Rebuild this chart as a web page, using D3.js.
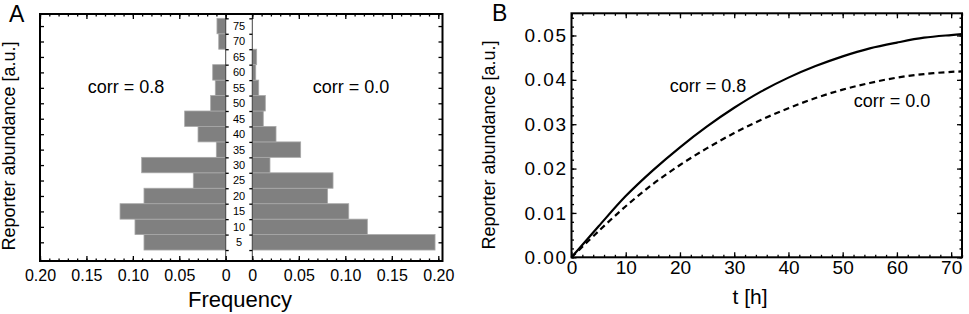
<!DOCTYPE html>
<html>
<head>
<meta charset="utf-8">
<script src="https://cdn.jsdelivr.net/npm/d3@7"></script>
<style>
  body { margin: 0; background: #fff; }
  svg { font-family: "Liberation Sans", Arial, sans-serif; }
  .axis path.domain { display: none; }
  .axis line { stroke: #000; stroke-width: 1.3; }
  .axis text { fill: #000; }
</style>
</head>
<body>
<svg id="chart" width="969" height="314"></svg>
<script>
// ---- panel A: reporter abundance histograms ----
const bins = [5, 10, 15, 20, 25, 30, 35, 40, 45, 50, 55, 60, 65, 70, 75];
const freqCorr08 = [0.088, 0.0977, 0.1138, 0.088, 0.0349, 0.0905, 0.0101, 0.0298, 0.0442, 0.0162, 0.0112, 0.014, 0, 0.0075, 0.0094];
const freqCorr00 = [0.1965, 0.1237, 0.1037, 0.081, 0.0868, 0.019, 0.052, 0.0255, 0.0118, 0.014, 0.0069, 0.0037, 0.0047, 0, 0];
const freqTicks = [0, 0.05, 0.10, 0.15, 0.20];

// ---- panel B: reporter abundance over time ----
const hours = [0, 5, 10, 15, 20, 25, 30, 35, 40, 45, 50, 55, 60, 65, 70, 72];
const abundCorr08 = [0, 0.0070, 0.0138, 0.0196, 0.0248, 0.0295, 0.0337, 0.0374, 0.0405, 0.0431, 0.0453, 0.0471, 0.0484, 0.0495, 0.0501, 0.0503];
const abundCorr00 = [0, 0.0059, 0.0115, 0.0165, 0.0208, 0.0246, 0.0280, 0.0310, 0.0336, 0.0359, 0.0378, 0.0393, 0.0405, 0.0413, 0.0418, 0.0419];
const hourTicks = [0, 10, 20, 30, 40, 50, 60, 70];
const abundTicks = [0, 0.01, 0.02, 0.03, 0.04, 0.05];

const svg = d3.select('#chart');

function addAxis(axis, x, y) {
    return svg.append('g')
        .attr('class', 'axis')
        .attr('transform', `translate(${x},${y})`)
        .call(axis);
}

// ================= Panel A =================
const A = { left: 40, right: 442.5, top: 14, bottom: 261, midL: 225.7, midR: 252.3 };

const xL = d3.scaleLinear().domain([0.2, 0]).range([A.left, A.midL]);
const xR = d3.scaleLinear().domain([0, 0.2]).range([A.midR, 438.3]);
const yA = d3.scaleLinear().domain([-1.05, 78.9]).range([A.bottom, A.top]);
const barH = yA(0) - yA(5);
const freqFmt = d => d === 0 ? '0' : d.toFixed(2);

svg.append('g').selectAll('rect')
    .data(bins.map((b, i) => ({ b, v: freqCorr08[i] })).filter(d => d.v > 0))
    .join('rect')
    .attr('x', d => xL(d.v))
    .attr('y', d => yA(d.b + 2.5))
    .attr('width', d => xL(0) - xL(d.v))
    .attr('height', barH)
    .attr('fill', '#808080')
    .attr('stroke', '#a8a8a8')
    .attr('stroke-width', 0.8);

svg.append('g').selectAll('rect')
    .data(bins.map((b, i) => ({ b, v: freqCorr00[i] })).filter(d => d.v > 0))
    .join('rect')
    .attr('x', xR(0))
    .attr('y', d => yA(d.b + 2.5))
    .attr('width', d => xR(d.v) - xR(0))
    .attr('height', barH)
    .attr('fill', '#808080')
    .attr('stroke', '#a8a8a8')
    .attr('stroke-width', 0.8);

// center strip with bin labels
[A.midL, A.midR].forEach(x => {
    svg.append('line')
        .attr('x1', x).attr('x2', x)
        .attr('y1', A.top).attr('y2', A.bottom)
        .attr('stroke', '#444').attr('stroke-width', 1);
});
const binEdges = bins.map(b => b - 2.5).concat([77.5]);
addAxis(d3.axisRight(yA).tickValues(binEdges).tickSize(3).tickFormat(''), A.midL, 0);
addAxis(d3.axisLeft(yA).tickValues(binEdges).tickSize(3).tickFormat(''), A.midR, 0);
svg.append('g').selectAll('text')
    .data(bins)
    .join('text')
    .attr('x', (A.midL + A.midR) / 2)
    .attr('y', d => yA(d))
    .attr('dy', '0.36em')
    .attr('text-anchor', 'middle')
    .attr('font-size', '11px')
    .text(d => d);

// bottom / top frequency axes
const minorL = d3.range(0, 0.2001, 0.01);
const minorR = d3.range(0, 0.2041, 0.01);
addAxis(d3.axisBottom(xL).tickValues(freqTicks).tickSize(-5).tickPadding(9).tickFormat(freqFmt), 0, A.bottom)
    .selectAll('text').attr('font-size', '16px');
addAxis(d3.axisBottom(xR).tickValues(freqTicks).tickSize(-5).tickPadding(9).tickFormat(freqFmt), 0, A.bottom)
    .selectAll('text').attr('font-size', '16px');
addAxis(d3.axisBottom(xL).tickValues(minorL).tickSize(-2.5).tickFormat(''), 0, A.bottom);
addAxis(d3.axisBottom(xR).tickValues(minorR).tickSize(-2.5).tickFormat(''), 0, A.bottom);
addAxis(d3.axisTop(xL).tickValues(freqTicks).tickSize(-5).tickFormat(''), 0, A.top);
addAxis(d3.axisTop(xR).tickValues(freqTicks).tickSize(-5).tickFormat(''), 0, A.top);
addAxis(d3.axisTop(xL).tickValues(minorL).tickSize(-2.5).tickFormat(''), 0, A.top);
addAxis(d3.axisTop(xR).tickValues(minorR).tickSize(-2.5).tickFormat(''), 0, A.top);
addAxis(d3.axisLeft(yA).tickValues(bins).tickSize(-4).tickFormat(''), A.left, 0);
addAxis(d3.axisRight(yA).tickValues(bins).tickSize(-4).tickFormat(''), A.right, 0);

svg.append('rect')
    .attr('x', A.left).attr('y', A.top)
    .attr('width', A.right - A.left).attr('height', A.bottom - A.top)
    .attr('fill', 'none').attr('stroke', '#000').attr('stroke-width', 2);

svg.append('text').attr('x', 126).attr('y', 92.5).attr('text-anchor', 'middle')
    .attr('font-size', '18px').text('corr = 0.8');
svg.append('text').attr('x', 351).attr('y', 92.5).attr('text-anchor', 'middle')
    .attr('font-size', '18px').text('corr = 0.0');

svg.append('text').attr('x', 240).attr('y', 307).attr('text-anchor', 'middle')
    .attr('font-size', '22px').text('Frequency');
svg.append('text')
    .attr('transform', 'translate(15,146) rotate(-90)')
    .attr('text-anchor', 'middle')
    .attr('font-size', '18px')
    .text('Reporter abundance [a.u.]');
svg.append('text').attr('x', 9).attr('y', 22).attr('font-size', '23px').text('A');

// ================= Panel B =================
const B = { left: 571.5, right: 962, top: 13.3, bottom: 257.3 };
const xB = d3.scaleLinear().domain([0, 72]).range([B.left, B.right]);
const yB = d3.scaleLinear().domain([0, 0.055]).range([B.bottom, B.top]);

const minorX = d3.range(0, 72.1, 2);
const minorY = d3.range(0, 0.0551, 0.002);

addAxis(d3.axisBottom(xB).tickValues(hourTicks).tickSize(-5).tickPadding(3).tickFormat(d3.format('d')), 0, B.bottom)
    .selectAll('text').attr('font-size', '19px');
addAxis(d3.axisBottom(xB).tickValues(minorX).tickSize(-2.5).tickFormat(''), 0, B.bottom);
addAxis(d3.axisTop(xB).tickValues(hourTicks).tickSize(-5).tickFormat(''), 0, B.top);
addAxis(d3.axisTop(xB).tickValues(minorX).tickSize(-2.5).tickFormat(''), 0, B.top);
addAxis(d3.axisLeft(yB).tickValues(abundTicks).tickSize(-5).tickPadding(4).tickFormat(d3.format('.2f')), B.left, 0)
    .selectAll('text').attr('font-size', '19px').style('letter-spacing', '1.5px');
addAxis(d3.axisLeft(yB).tickValues(minorY).tickSize(-2.5).tickFormat(''), B.left, 0);
addAxis(d3.axisRight(yB).tickValues(abundTicks).tickSize(-5).tickFormat(''), B.right, 0);
addAxis(d3.axisRight(yB).tickValues(minorY).tickSize(-2.5).tickFormat(''), B.right, 0);

const line = d3.line()
    .x(d => xB(d[0]))
    .y(d => yB(d[1]))
    .curve(d3.curveCatmullRom.alpha(0.5));

svg.append('path')
    .datum(hours.map((t, i) => [t, abundCorr08[i]]))
    .attr('d', line)
    .attr('fill', 'none')
    .attr('stroke', '#000')
    .attr('stroke-width', 2.2);

svg.append('path')
    .datum(hours.map((t, i) => [t, abundCorr00[i]]))
    .attr('d', line)
    .attr('fill', 'none')
    .attr('stroke', '#000')
    .attr('stroke-width', 2.2)
    .attr('stroke-dasharray', '6,4');

svg.append('rect')
    .attr('x', B.left).attr('y', B.top)
    .attr('width', B.right - B.left).attr('height', B.bottom - B.top)
    .attr('fill', 'none').attr('stroke', '#000').attr('stroke-width', 2);

svg.append('text').attr('x', 708).attr('y', 92).attr('text-anchor', 'middle')
    .attr('font-size', '18px').text('corr = 0.8');
svg.append('text').attr('x', 892).attr('y', 107).attr('text-anchor', 'middle')
    .attr('font-size', '18px').text('corr = 0.0');

svg.append('text').attr('x', 750).attr('y', 304).attr('text-anchor', 'middle')
    .attr('font-size', '21px').text('t [h]');
svg.append('text')
    .attr('transform', 'translate(495,145) rotate(-90)')
    .attr('text-anchor', 'middle')
    .attr('font-size', '18px')
    .text('Reporter abundance [a.u.]');
svg.append('text').attr('x', 492).attr('y', 21).attr('font-size', '23px').text('B');
</script>
</body>
</html>
